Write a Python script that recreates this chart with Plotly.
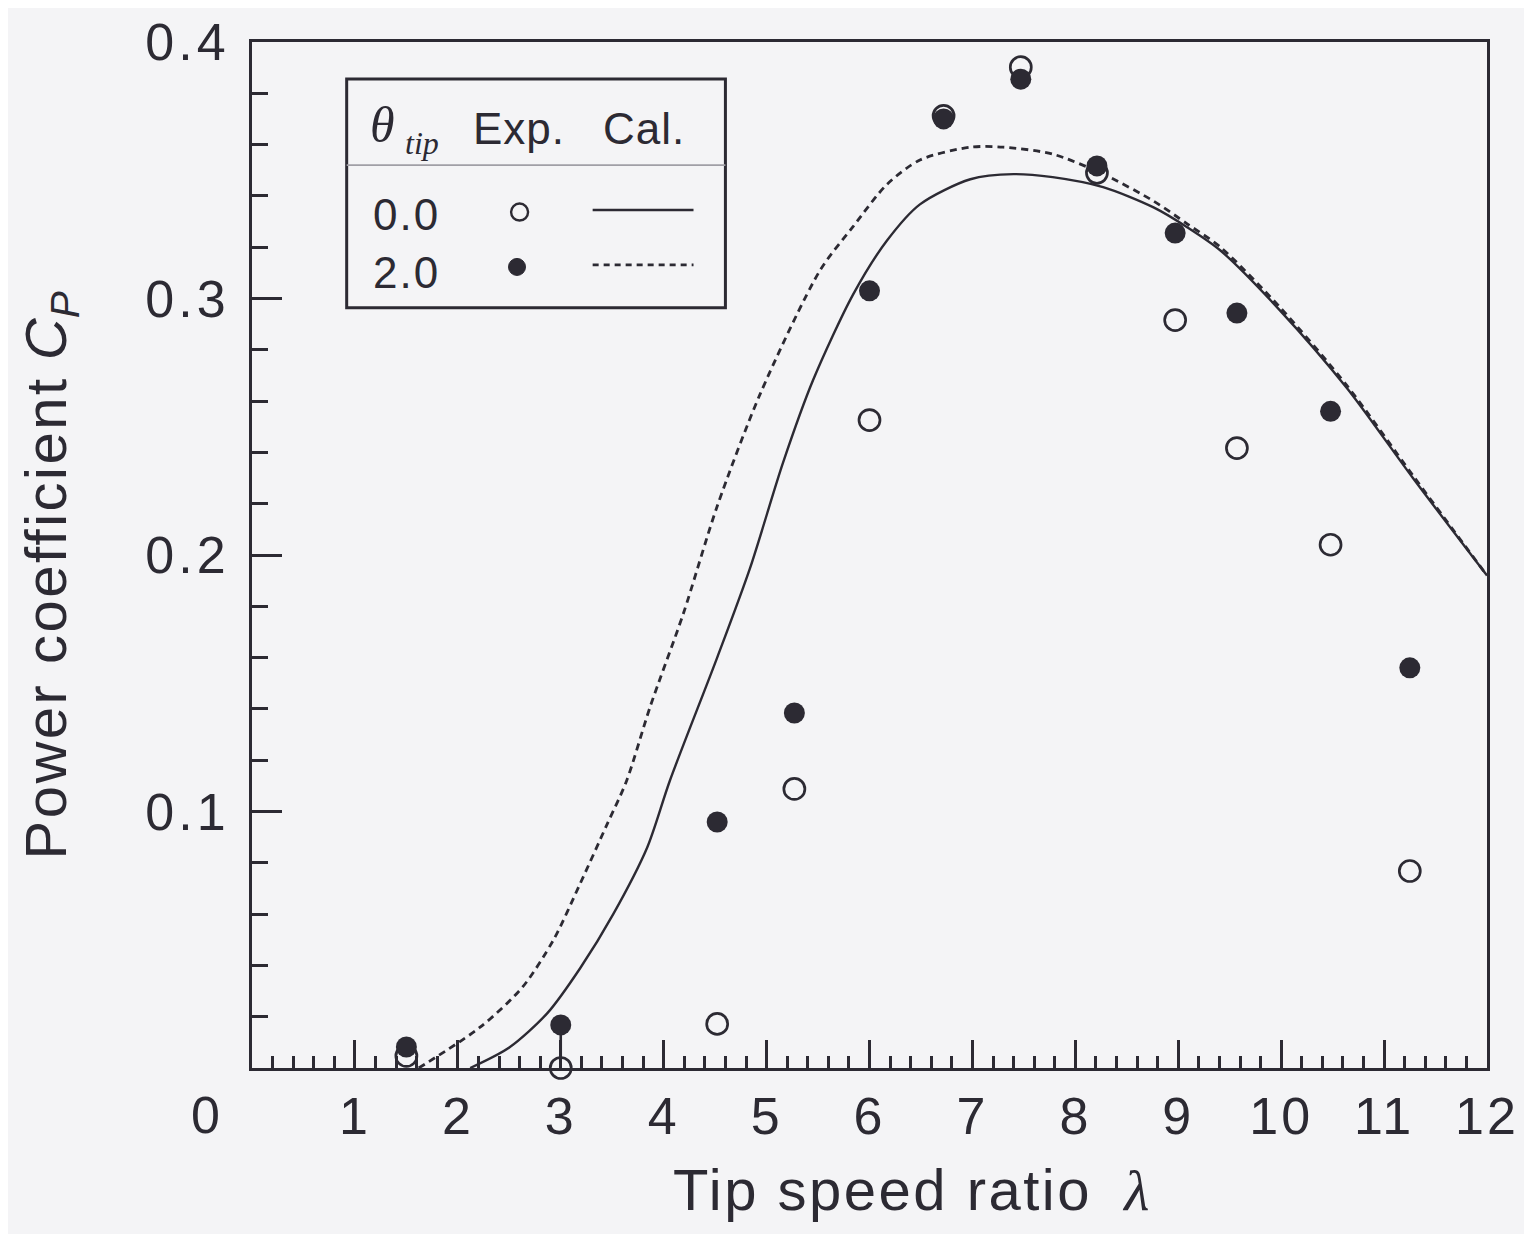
import plotly.graph_objects as go

INK = "#2c2a33"
BG = "#f4f4f6"
SANS = "Liberation Sans, Arial, Helvetica, sans-serif"
SERIF = "Liberation Serif, DejaVu Serif, serif"

# ---------------- data ----------------
lam_exp = [1.5, 3.0, 4.52, 5.27, 6.0, 6.72, 7.47, 8.21, 8.97, 9.57, 10.48, 11.25]
cp_exp_tip00 = [0.0047, 0.0, 0.0172, 0.1088, 0.2526, 0.3712, 0.3902, 0.3490, 0.2916, 0.2417, 0.2040, 0.0768]
cp_exp_tip20 = [0.0082, 0.0168, 0.0959, 0.1384, 0.3030, 0.3700, 0.3855, 0.3517, 0.3255, 0.2943, 0.2560, 0.1560]

lam_cal_tip00 = [2.12, 2.5, 2.87, 3.19, 3.51, 3.84, 4.06, 4.52, 4.84, 5.16, 5.45, 5.84, 6.17,
                 6.49, 6.98, 7.40, 7.78, 8.27, 8.76, 9.09, 9.41, 9.99, 10.64, 11.28, 12.0]
cp_cal_tip00 = [0.0, 0.008, 0.0214, 0.039, 0.060, 0.086, 0.112, 0.160, 0.195, 0.236, 0.268, 0.3015, 0.3226,
                0.3367, 0.3465, 0.3485, 0.3473, 0.3434, 0.3355, 0.3277, 0.3187, 0.2953, 0.265, 0.230, 0.192]

lam_cal_tip20 = [1.62, 2.22, 2.63, 2.93, 3.19, 3.45, 3.64, 3.87, 4.19, 4.52, 4.94, 5.52, 5.84, 6.17,
                 6.49, 6.98, 7.30, 7.78, 8.27, 8.76, 9.09, 9.41, 9.99, 10.64, 11.28, 12.0]
cp_cal_tip20 = [0.0, 0.016, 0.0316, 0.050, 0.072, 0.095, 0.112, 0.141, 0.177, 0.219, 0.263, 0.311, 0.328, 0.3445,
                0.354, 0.359, 0.359, 0.3563, 0.3485, 0.338, 0.329, 0.320, 0.2965, 0.266, 0.231, 0.192]

x_ticks = [1, 2, 3, 4, 5, 6, 7, 8, 9, 10, 11, 12]
x_ticktext = ["1", "2", "3", "4", "5", "6", "7", "8", "9", "10", "11", "12"]
y_ticks = [0.1, 0.2, 0.3, 0.4]
y_ticktext = ["0.1", "0.2", "0.3", "0.4"]


def spaced(t, px):
    return f"<span style='letter-spacing:{px}px'>{t}</span>"


fig = go.Figure()

# calculated curves
fig.add_trace(go.Scatter(x=lam_cal_tip20, y=cp_cal_tip20, mode="lines",
                         line=dict(color=INK, width=2.8, dash="7px,5px", shape="spline", smoothing=0.8),
                         showlegend=False))
fig.add_trace(go.Scatter(x=lam_cal_tip00, y=cp_cal_tip00, mode="lines",
                         line=dict(color=INK, width=2.4, shape="spline", smoothing=0.8),
                         showlegend=False))

# stem between the two experimental points at lambda = 3
stem_i = 1
fig.add_trace(go.Scatter(x=[lam_exp[stem_i], lam_exp[stem_i]],
                         y=[cp_exp_tip00[stem_i], cp_exp_tip20[stem_i]], mode="lines",
                         line=dict(color=INK, width=2.6), showlegend=False, cliponaxis=False))

# experiments
fig.add_trace(go.Scatter(x=lam_exp, y=cp_exp_tip00, mode="markers", cliponaxis=False,
                         marker=dict(symbol="circle", size=21, color=BG,
                                     line=dict(color=INK, width=2.7)), showlegend=False))
fig.add_trace(go.Scatter(x=lam_exp, y=cp_exp_tip20, mode="markers", cliponaxis=False,
                         marker=dict(symbol="circle", size=21, color=INK,
                                     line=dict(color=INK, width=0)), showlegend=False))

# ---------------- legend box (table-style) ----------------
shapes = []
box = dict(x0=0.92, x1=4.60, y0=0.2964, y1=0.3856)
shapes.append(dict(type="rect", xref="x", yref="y", **box, line=dict(color=INK, width=3),
                   fillcolor=BG, layer="above"))
shapes.append(dict(type="line", xref="x", yref="y", x0=box["x0"], x1=box["x1"], y0=0.352, y1=0.352,
                   line=dict(color="#a09fa6", width=1.6), layer="above"))
# legend symbols
shapes.append(dict(type="circle", xref="x", yref="y", xsizemode="pixel", ysizemode="pixel",
                   xanchor=2.60, yanchor=0.3337, x0=-8.5, x1=8.5, y0=-8.5, y1=8.5,
                   line=dict(color=INK, width=2.4), fillcolor=BG, layer="above"))
shapes.append(dict(type="circle", xref="x", yref="y", xsizemode="pixel", ysizemode="pixel",
                   xanchor=2.575, yanchor=0.3123, x0=-8.5, x1=8.5, y0=-8.5, y1=8.5,
                   line=dict(color=INK, width=1), fillcolor=INK, layer="above"))
shapes.append(dict(type="line", xref="x", yref="y", x0=3.31, x1=4.29, y0=0.3345, y1=0.3345,
                   line=dict(color=INK, width=2.4), layer="above"))
shapes.append(dict(type="line", xref="x", yref="y", x0=3.31, x1=4.29, y0=0.3131, y1=0.3131,
                   line=dict(color=INK, width=2.6, dash="6px,5px"), layer="above"))

annotations = []
lf = dict(family=SANS, size=44, color=INK)
C = dict(showarrow=False, xanchor="center", yanchor="middle")
annotations.append(dict(x=1.27, y=0.3675, xref="x", yref="y", text="<i>θ</i>",
                        font=dict(family=SERIF, size=50, color=INK), **C))
annotations.append(dict(x=1.65, y=0.3605, xref="x", yref="y", text="<i>tip</i>",
                        font=dict(family=SERIF, size=32, color=INK), **C))
annotations.append(dict(x=2.59, y=0.3662, xref="x", yref="y", text=spaced("Exp.", 1), font=lf, **C))
annotations.append(dict(x=3.81, y=0.3662, xref="x", yref="y", text=spaced("Cal.", 1), font=lf, **C))
annotations.append(dict(x=1.50, y=0.3326, xref="x", yref="y", text=spaced("0.0", 2), font=lf, **C))
annotations.append(dict(x=1.50, y=0.3103, xref="x", yref="y", text=spaced("2.0", 2), font=lf, **C))

# axis titles and shared origin label
annotations.append(dict(x=0.534, y=-0.119, xref="paper", yref="paper",
                        text=spaced("Tip speed ratio", 2.5)
                        + "  <span style='font-family:Liberation Serif'><i>λ</i></span>",
                        font=dict(family=SANS, size=58, color=INK), **C))
annotations.append(dict(x=-0.1636, y=0.48, xref="paper", yref="paper", textangle=-90,
                        text=spaced("Power coefficient", 2.5) + " <i>C</i><sub><i>P</i></sub>",
                        font=dict(family=SANS, size=58, color=INK), **C))
annotations.append(dict(x=-0.038, y=-0.0458, xref="paper", yref="paper", text="0",
                        font=dict(family=SANS, size=52, color=INK), **C))

fig.update_layout(
    width=1516, height=1226,
    margin=dict(l=244, r=37, t=34, b=166, autoexpand=False),
    paper_bgcolor=BG, plot_bgcolor=BG,
    showlegend=False,
    shapes=shapes, annotations=annotations,
    font=dict(family=SANS, color=INK),
)
fig.update_xaxes(
    range=[0, 12], tickmode="array", tickvals=x_ticks,
    ticktext=[spaced(t, 3) for t in x_ticktext],
    ticks="inside", ticklen=28, tickwidth=2.5, tickcolor=INK,
    minor=dict(dtick=0.2, tick0=0, ticks="inside", ticklen=12, tickwidth=2.5, tickcolor=INK),
    showline=True, linewidth=3, linecolor=INK, mirror=True,
    showgrid=False, zeroline=False, automargin=False,
    tickfont=dict(family=SANS, size=52, color=INK), ticklabelstandoff=1,
)
fig.update_yaxes(
    range=[0, 0.4], tickmode="array", tickvals=y_ticks,
    ticktext=[spaced(t, 4) for t in y_ticktext],
    ticks="inside", ticklen=30, tickwidth=2.5, tickcolor=INK,
    minor=dict(dtick=0.02, tick0=0, ticks="inside", ticklen=16, tickwidth=2.5, tickcolor=INK),
    showline=True, linewidth=3, linecolor=INK, mirror=True,
    showgrid=False, zeroline=False, automargin=False,
    tickfont=dict(family=SANS, size=52, color=INK), ticklabelstandoff=9,
)

fig.write_html("out.html")
